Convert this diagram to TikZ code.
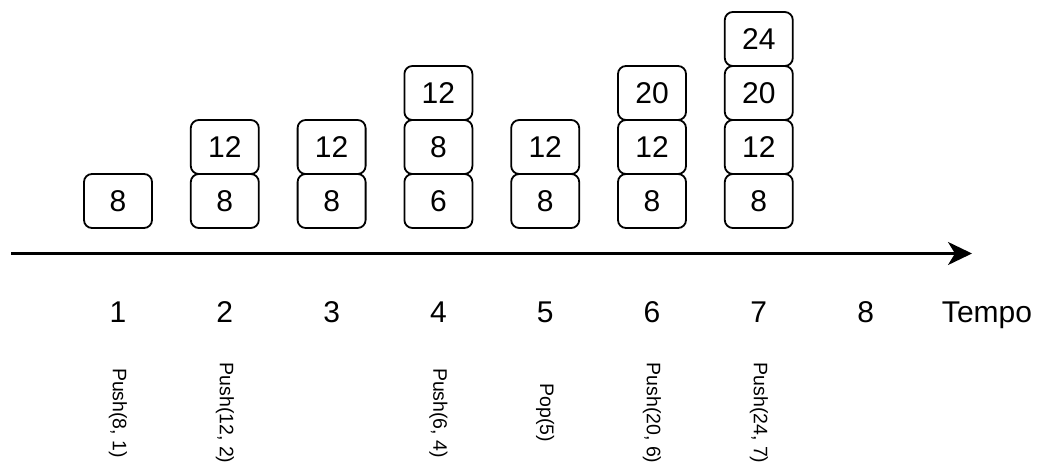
\documentclass[tikz,border=0pt]{standalone}
\usepackage{fontspec}
\setmainfont{Liberation Sans}
\usetikzlibrary{arrows.meta}

\tikzset{
  cell/.style={draw, line width=1.8pt, rounded corners=8pt, minimum width=68pt,
    minimum height=54pt, inner sep=0pt, font=\fontsize{30}{36}\selectfont},
  tick/.style={anchor=base, inner sep=0pt, font=\fontsize{30}{36}\selectfont},
  opname/.style={rotate=-90, inner sep=0pt, font=\fontsize{19.5}{23}\selectfont},
  axis/.style={line width=2.4pt, -{Stealth[length=24pt, width=23pt, inset=7pt]}}
}

\begin{document}
\begin{tikzpicture}[x=1pt, y=-1pt]
  \useasboundingbox (0,0) rectangle (1038,462);

  % stack contents at each instant
  \foreach \c/\r/\v in {1/1/8, 2/1/8, 2/2/12, 3/1/8, 3/2/12,
                        4/1/6, 4/2/8, 4/3/12, 5/1/8, 5/2/12,
                        6/1/8, 6/2/12, 6/3/20,
                        7/1/8, 7/2/12, 7/3/20, 7/4/24} {
    \node[cell] (box-\c-\r) at ({118+106.8*(\c-1)}, {201-54*(\r-1)}) {\v};
  }

  % time axis
  \coordinate (start) at (11, 253.5);
  \coordinate (end) at (972, 253.5);
  \draw[axis] (start) -- (end);

  \foreach \c in {1,...,8} {
    \node[tick] (t\c) at ({118+106.8*(\c-1)}, 322) {\c};
  }
  \node[tick] (tempo) at (987, 322) {Tempo};

  % operations
  \foreach \c/\op in {1/{Push(8, 1)}, 2/{Push(12, 2)}, 4/{Push(6, 4)},
                      5/{Pop(5)}, 6/{Push(20, 6)}, 7/{Push(24, 7)}} {
    \node[opname] (op\c) at ({118+106.8*(\c-1)}, 413) {\op};
  }
\end{tikzpicture}
\end{document}
